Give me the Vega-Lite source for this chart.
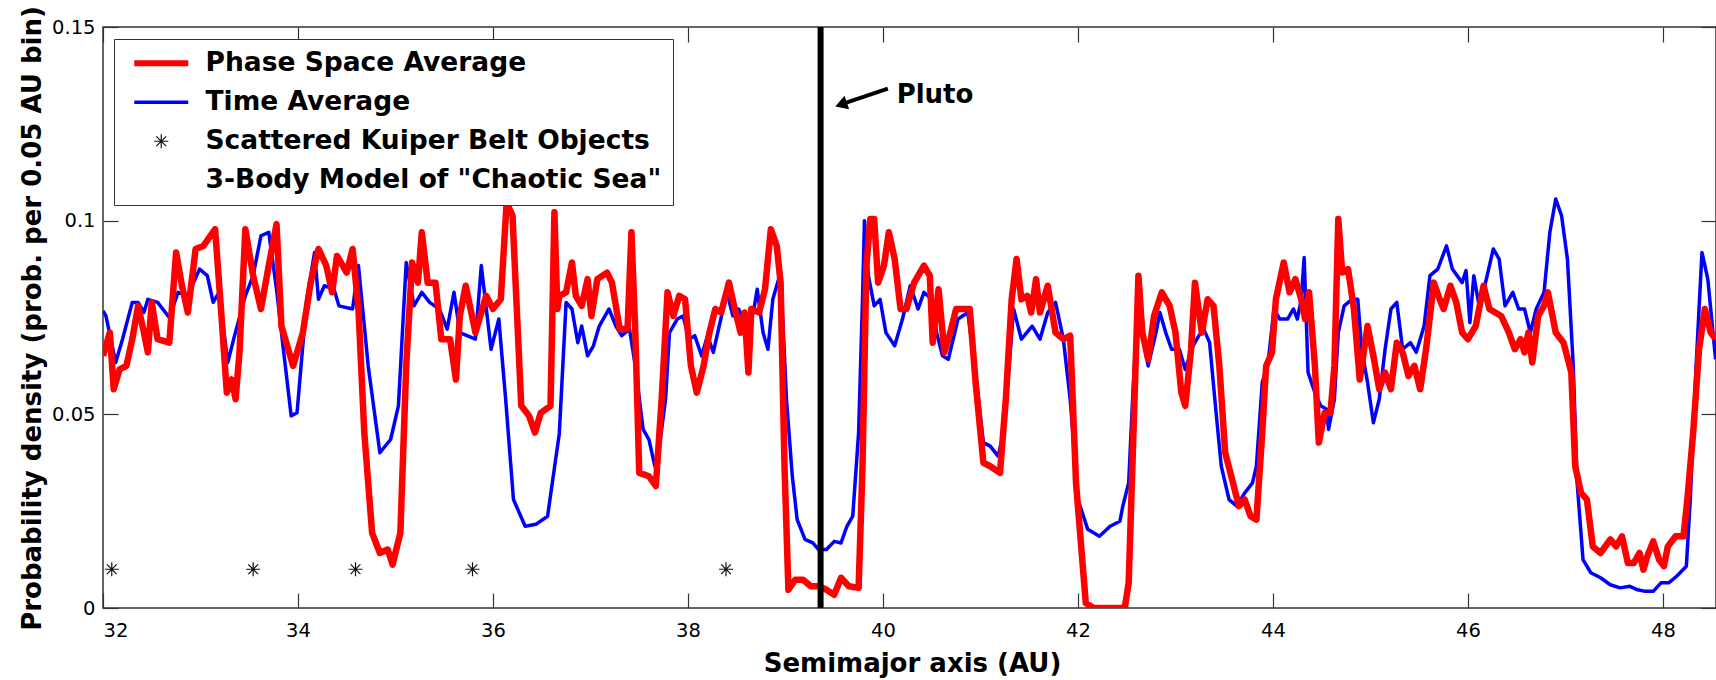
{
  "$schema": "https://vega.github.io/schema/vega-lite/v6.json",
  "width": 1613,
  "height": 581,
  "autosize": {"type": "none"},
  "padding": {"left": 103, "top": 27, "right": 0, "bottom": 72},
  "background": "white",
  "config": {
    "view": {"stroke": "#333333", "strokeWidth": 1.5},
    "font": "DejaVu Sans"
  },
  "datasets": {
    "curves": [
      {"a":32.0,"p":0.0767,"s":"Time Average"},{"a":32.03,"p":0.0754,"s":"Time Average"},{"a":32.13,"p":0.0634,"s":"Time Average"},{"a":32.2,"p":0.0694,"s":"Time Average"},{"a":32.3,"p":0.0789,"s":"Time Average"},{"a":32.36,"p":0.0789,"s":"Time Average"},{"a":32.42,"p":0.0763,"s":"Time Average"},{"a":32.46,"p":0.0797,"s":"Time Average"},{"a":32.56,"p":0.0789,"s":"Time Average"},{"a":32.68,"p":0.075,"s":"Time Average"},{"a":32.77,"p":0.0815,"s":"Time Average"},{"a":32.87,"p":0.0806,"s":"Time Average"},{"a":32.99,"p":0.0875,"s":"Time Average"},{"a":33.07,"p":0.0858,"s":"Time Average"},{"a":33.13,"p":0.0789,"s":"Time Average"},{"a":33.19,"p":0.0815,"s":"Time Average"},{"a":33.28,"p":0.0634,"s":"Time Average"},{"a":33.34,"p":0.0694,"s":"Time Average"},{"a":33.46,"p":0.0806,"s":"Time Average"},{"a":33.54,"p":0.0858,"s":"Time Average"},{"a":33.62,"p":0.0961,"s":"Time Average"},{"a":33.7,"p":0.097,"s":"Time Average"},{"a":33.78,"p":0.0823,"s":"Time Average"},{"a":33.85,"p":0.0668,"s":"Time Average"},{"a":33.93,"p":0.0496,"s":"Time Average"},{"a":33.99,"p":0.0504,"s":"Time Average"},{"a":34.09,"p":0.0797,"s":"Time Average"},{"a":34.17,"p":0.0918,"s":"Time Average"},{"a":34.21,"p":0.0797,"s":"Time Average"},{"a":34.27,"p":0.0832,"s":"Time Average"},{"a":34.37,"p":0.0823,"s":"Time Average"},{"a":34.42,"p":0.078,"s":"Time Average"},{"a":34.56,"p":0.0772,"s":"Time Average"},{"a":34.62,"p":0.0884,"s":"Time Average"},{"a":34.72,"p":0.0625,"s":"Time Average"},{"a":34.84,"p":0.0401,"s":"Time Average"},{"a":34.95,"p":0.0435,"s":"Time Average"},{"a":35.03,"p":0.0522,"s":"Time Average"},{"a":35.11,"p":0.0892,"s":"Time Average"},{"a":35.19,"p":0.078,"s":"Time Average"},{"a":35.27,"p":0.0815,"s":"Time Average"},{"a":35.35,"p":0.0789,"s":"Time Average"},{"a":35.45,"p":0.0772,"s":"Time Average"},{"a":35.53,"p":0.072,"s":"Time Average"},{"a":35.6,"p":0.0815,"s":"Time Average"},{"a":35.66,"p":0.0711,"s":"Time Average"},{"a":35.82,"p":0.0694,"s":"Time Average"},{"a":35.88,"p":0.0884,"s":"Time Average"},{"a":35.98,"p":0.0668,"s":"Time Average"},{"a":36.06,"p":0.0746,"s":"Time Average"},{"a":36.13,"p":0.0539,"s":"Time Average"},{"a":36.21,"p":0.028,"s":"Time Average"},{"a":36.33,"p":0.0211,"s":"Time Average"},{"a":36.44,"p":0.0216,"s":"Time Average"},{"a":36.56,"p":0.0237,"s":"Time Average"},{"a":36.68,"p":0.045,"s":"Time Average"},{"a":36.75,"p":0.0789,"s":"Time Average"},{"a":36.81,"p":0.0772,"s":"Time Average"},{"a":36.87,"p":0.0685,"s":"Time Average"},{"a":36.91,"p":0.0728,"s":"Time Average"},{"a":36.97,"p":0.0651,"s":"Time Average"},{"a":37.03,"p":0.0677,"s":"Time Average"},{"a":37.09,"p":0.0728,"s":"Time Average"},{"a":37.19,"p":0.0772,"s":"Time Average"},{"a":37.26,"p":0.0728,"s":"Time Average"},{"a":37.32,"p":0.0703,"s":"Time Average"},{"a":37.4,"p":0.072,"s":"Time Average"},{"a":37.46,"p":0.0625,"s":"Time Average"},{"a":37.54,"p":0.0461,"s":"Time Average"},{"a":37.6,"p":0.0435,"s":"Time Average"},{"a":37.66,"p":0.0366,"s":"Time Average"},{"a":37.69,"p":0.0384,"s":"Time Average"},{"a":37.77,"p":0.0539,"s":"Time Average"},{"a":37.81,"p":0.0711,"s":"Time Average"},{"a":37.89,"p":0.0746,"s":"Time Average"},{"a":37.95,"p":0.0754,"s":"Time Average"},{"a":38.01,"p":0.0694,"s":"Time Average"},{"a":38.07,"p":0.0703,"s":"Time Average"},{"a":38.14,"p":0.0651,"s":"Time Average"},{"a":38.2,"p":0.0703,"s":"Time Average"},{"a":38.26,"p":0.066,"s":"Time Average"},{"a":38.32,"p":0.0728,"s":"Time Average"},{"a":38.4,"p":0.0815,"s":"Time Average"},{"a":38.46,"p":0.0754,"s":"Time Average"},{"a":38.52,"p":0.0772,"s":"Time Average"},{"a":38.6,"p":0.0728,"s":"Time Average"},{"a":38.67,"p":0.0763,"s":"Time Average"},{"a":38.71,"p":0.0823,"s":"Time Average"},{"a":38.77,"p":0.0711,"s":"Time Average"},{"a":38.82,"p":0.0668,"s":"Time Average"},{"a":38.87,"p":0.0797,"s":"Time Average"},{"a":38.95,"p":0.0866,"s":"Time Average"},{"a":39.01,"p":0.0539,"s":"Time Average"},{"a":39.07,"p":0.034,"s":"Time Average"},{"a":39.12,"p":0.0228,"s":"Time Average"},{"a":39.2,"p":0.0177,"s":"Time Average"},{"a":39.28,"p":0.0168,"s":"Time Average"},{"a":39.34,"p":0.0151,"s":"Time Average"},{"a":39.42,"p":0.0151,"s":"Time Average"},{"a":39.5,"p":0.0172,"s":"Time Average"},{"a":39.57,"p":0.0168,"s":"Time Average"},{"a":39.63,"p":0.0211,"s":"Time Average"},{"a":39.69,"p":0.0237,"s":"Time Average"},{"a":39.75,"p":0.0453,"s":"Time Average"},{"a":39.79,"p":0.0797,"s":"Time Average"},{"a":39.81,"p":0.1,"s":"Time Average"},{"a":39.85,"p":0.0858,"s":"Time Average"},{"a":39.91,"p":0.078,"s":"Time Average"},{"a":39.97,"p":0.0797,"s":"Time Average"},{"a":40.03,"p":0.0711,"s":"Time Average"},{"a":40.12,"p":0.0677,"s":"Time Average"},{"a":40.2,"p":0.0746,"s":"Time Average"},{"a":40.28,"p":0.0832,"s":"Time Average"},{"a":40.36,"p":0.0772,"s":"Time Average"},{"a":40.42,"p":0.0815,"s":"Time Average"},{"a":40.5,"p":0.0797,"s":"Time Average"},{"a":40.55,"p":0.0711,"s":"Time Average"},{"a":40.61,"p":0.0651,"s":"Time Average"},{"a":40.67,"p":0.0642,"s":"Time Average"},{"a":40.77,"p":0.0746,"s":"Time Average"},{"a":40.87,"p":0.0763,"s":"Time Average"},{"a":40.95,"p":0.0608,"s":"Time Average"},{"a":41.03,"p":0.0427,"s":"Time Average"},{"a":41.1,"p":0.0418,"s":"Time Average"},{"a":41.18,"p":0.0392,"s":"Time Average"},{"a":41.24,"p":0.0453,"s":"Time Average"},{"a":41.34,"p":0.0772,"s":"Time Average"},{"a":41.42,"p":0.0694,"s":"Time Average"},{"a":41.53,"p":0.0728,"s":"Time Average"},{"a":41.61,"p":0.0694,"s":"Time Average"},{"a":41.69,"p":0.0763,"s":"Time Average"},{"a":41.77,"p":0.0789,"s":"Time Average"},{"a":41.85,"p":0.0694,"s":"Time Average"},{"a":41.92,"p":0.0539,"s":"Time Average"},{"a":42.0,"p":0.028,"s":"Time Average"},{"a":42.1,"p":0.0203,"s":"Time Average"},{"a":42.22,"p":0.0185,"s":"Time Average"},{"a":42.33,"p":0.0211,"s":"Time Average"},{"a":42.43,"p":0.0224,"s":"Time Average"},{"a":42.46,"p":0.0263,"s":"Time Average"},{"a":42.52,"p":0.0323,"s":"Time Average"},{"a":42.56,"p":0.0539,"s":"Time Average"},{"a":42.6,"p":0.0728,"s":"Time Average"},{"a":42.64,"p":0.0797,"s":"Time Average"},{"a":42.68,"p":0.0677,"s":"Time Average"},{"a":42.72,"p":0.0625,"s":"Time Average"},{"a":42.8,"p":0.0711,"s":"Time Average"},{"a":42.84,"p":0.0763,"s":"Time Average"},{"a":42.9,"p":0.0711,"s":"Time Average"},{"a":42.96,"p":0.0668,"s":"Time Average"},{"a":43.04,"p":0.0668,"s":"Time Average"},{"a":43.1,"p":0.0616,"s":"Time Average"},{"a":43.18,"p":0.0677,"s":"Time Average"},{"a":43.24,"p":0.0703,"s":"Time Average"},{"a":43.29,"p":0.072,"s":"Time Average"},{"a":43.35,"p":0.0685,"s":"Time Average"},{"a":43.41,"p":0.0522,"s":"Time Average"},{"a":43.47,"p":0.0366,"s":"Time Average"},{"a":43.55,"p":0.028,"s":"Time Average"},{"a":43.63,"p":0.0263,"s":"Time Average"},{"a":43.71,"p":0.0297,"s":"Time Average"},{"a":43.79,"p":0.0323,"s":"Time Average"},{"a":43.83,"p":0.0366,"s":"Time Average"},{"a":43.89,"p":0.0582,"s":"Time Average"},{"a":43.95,"p":0.0634,"s":"Time Average"},{"a":44.01,"p":0.0772,"s":"Time Average"},{"a":44.07,"p":0.0746,"s":"Time Average"},{"a":44.15,"p":0.0746,"s":"Time Average"},{"a":44.21,"p":0.0772,"s":"Time Average"},{"a":44.25,"p":0.0746,"s":"Time Average"},{"a":44.29,"p":0.0797,"s":"Time Average"},{"a":44.32,"p":0.0905,"s":"Time Average"},{"a":44.36,"p":0.0608,"s":"Time Average"},{"a":44.43,"p":0.0556,"s":"Time Average"},{"a":44.49,"p":0.0522,"s":"Time Average"},{"a":44.55,"p":0.0513,"s":"Time Average"},{"a":44.57,"p":0.0461,"s":"Time Average"},{"a":44.63,"p":0.0539,"s":"Time Average"},{"a":44.67,"p":0.0711,"s":"Time Average"},{"a":44.73,"p":0.078,"s":"Time Average"},{"a":44.81,"p":0.0797,"s":"Time Average"},{"a":44.87,"p":0.0797,"s":"Time Average"},{"a":44.91,"p":0.0668,"s":"Time Average"},{"a":44.97,"p":0.0582,"s":"Time Average"},{"a":45.03,"p":0.0478,"s":"Time Average"},{"a":45.09,"p":0.0539,"s":"Time Average"},{"a":45.15,"p":0.0668,"s":"Time Average"},{"a":45.21,"p":0.0772,"s":"Time Average"},{"a":45.27,"p":0.0789,"s":"Time Average"},{"a":45.33,"p":0.0668,"s":"Time Average"},{"a":45.41,"p":0.0685,"s":"Time Average"},{"a":45.47,"p":0.066,"s":"Time Average"},{"a":45.55,"p":0.0728,"s":"Time Average"},{"a":45.61,"p":0.0858,"s":"Time Average"},{"a":45.69,"p":0.0875,"s":"Time Average"},{"a":45.78,"p":0.0935,"s":"Time Average"},{"a":45.84,"p":0.0875,"s":"Time Average"},{"a":45.94,"p":0.084,"s":"Time Average"},{"a":45.98,"p":0.0871,"s":"Time Average"},{"a":46.02,"p":0.0737,"s":"Time Average"},{"a":46.06,"p":0.0858,"s":"Time Average"},{"a":46.12,"p":0.0772,"s":"Time Average"},{"a":46.18,"p":0.084,"s":"Time Average"},{"a":46.26,"p":0.0927,"s":"Time Average"},{"a":46.32,"p":0.0901,"s":"Time Average"},{"a":46.38,"p":0.078,"s":"Time Average"},{"a":46.46,"p":0.0815,"s":"Time Average"},{"a":46.52,"p":0.0772,"s":"Time Average"},{"a":46.58,"p":0.0772,"s":"Time Average"},{"a":46.64,"p":0.0711,"s":"Time Average"},{"a":46.7,"p":0.0772,"s":"Time Average"},{"a":46.78,"p":0.0815,"s":"Time Average"},{"a":46.84,"p":0.097,"s":"Time Average"},{"a":46.9,"p":0.1056,"s":"Time Average"},{"a":46.96,"p":0.1013,"s":"Time Average"},{"a":47.02,"p":0.0901,"s":"Time Average"},{"a":47.08,"p":0.0625,"s":"Time Average"},{"a":47.12,"p":0.0323,"s":"Time Average"},{"a":47.18,"p":0.0125,"s":"Time Average"},{"a":47.26,"p":0.0091,"s":"Time Average"},{"a":47.36,"p":0.0078,"s":"Time Average"},{"a":47.46,"p":0.006,"s":"Time Average"},{"a":47.56,"p":0.0052,"s":"Time Average"},{"a":47.66,"p":0.0056,"s":"Time Average"},{"a":47.74,"p":0.0047,"s":"Time Average"},{"a":47.82,"p":0.0043,"s":"Time Average"},{"a":47.9,"p":0.0043,"s":"Time Average"},{"a":47.98,"p":0.0065,"s":"Time Average"},{"a":48.06,"p":0.0065,"s":"Time Average"},{"a":48.14,"p":0.0082,"s":"Time Average"},{"a":48.24,"p":0.0108,"s":"Time Average"},{"a":48.28,"p":0.028,"s":"Time Average"},{"a":48.34,"p":0.0625,"s":"Time Average"},{"a":48.4,"p":0.0918,"s":"Time Average"},{"a":48.46,"p":0.0849,"s":"Time Average"},{"a":48.5,"p":0.0746,"s":"Time Average"},{"a":48.54,"p":0.0642,"s":"Time Average"},
      {"a":32.0,"p":0.0651,"s":"Phase Space Average"},{"a":32.07,"p":0.0711,"s":"Phase Space Average"},{"a":32.11,"p":0.0565,"s":"Phase Space Average"},{"a":32.17,"p":0.0616,"s":"Phase Space Average"},{"a":32.24,"p":0.0625,"s":"Phase Space Average"},{"a":32.3,"p":0.0694,"s":"Phase Space Average"},{"a":32.36,"p":0.078,"s":"Phase Space Average"},{"a":32.42,"p":0.0711,"s":"Phase Space Average"},{"a":32.46,"p":0.066,"s":"Phase Space Average"},{"a":32.5,"p":0.0789,"s":"Phase Space Average"},{"a":32.56,"p":0.0694,"s":"Phase Space Average"},{"a":32.68,"p":0.0685,"s":"Phase Space Average"},{"a":32.75,"p":0.0918,"s":"Phase Space Average"},{"a":32.81,"p":0.0832,"s":"Phase Space Average"},{"a":32.87,"p":0.0763,"s":"Phase Space Average"},{"a":32.95,"p":0.0927,"s":"Phase Space Average"},{"a":33.03,"p":0.0935,"s":"Phase Space Average"},{"a":33.15,"p":0.0978,"s":"Phase Space Average"},{"a":33.21,"p":0.0772,"s":"Phase Space Average"},{"a":33.27,"p":0.0556,"s":"Phase Space Average"},{"a":33.32,"p":0.059,"s":"Phase Space Average"},{"a":33.36,"p":0.0539,"s":"Phase Space Average"},{"a":33.4,"p":0.066,"s":"Phase Space Average"},{"a":33.46,"p":0.0978,"s":"Phase Space Average"},{"a":33.54,"p":0.0858,"s":"Phase Space Average"},{"a":33.62,"p":0.0772,"s":"Phase Space Average"},{"a":33.7,"p":0.0884,"s":"Phase Space Average"},{"a":33.78,"p":0.0991,"s":"Phase Space Average"},{"a":33.83,"p":0.0728,"s":"Phase Space Average"},{"a":33.95,"p":0.0625,"s":"Phase Space Average"},{"a":34.05,"p":0.0711,"s":"Phase Space Average"},{"a":34.13,"p":0.084,"s":"Phase Space Average"},{"a":34.21,"p":0.0927,"s":"Phase Space Average"},{"a":34.29,"p":0.0884,"s":"Phase Space Average"},{"a":34.35,"p":0.0815,"s":"Phase Space Average"},{"a":34.4,"p":0.0909,"s":"Phase Space Average"},{"a":34.5,"p":0.0866,"s":"Phase Space Average"},{"a":34.56,"p":0.0927,"s":"Phase Space Average"},{"a":34.62,"p":0.0772,"s":"Phase Space Average"},{"a":34.68,"p":0.0453,"s":"Phase Space Average"},{"a":34.76,"p":0.0194,"s":"Phase Space Average"},{"a":34.84,"p":0.0142,"s":"Phase Space Average"},{"a":34.92,"p":0.0151,"s":"Phase Space Average"},{"a":34.97,"p":0.0112,"s":"Phase Space Average"},{"a":35.05,"p":0.0194,"s":"Phase Space Average"},{"a":35.11,"p":0.0625,"s":"Phase Space Average"},{"a":35.17,"p":0.0892,"s":"Phase Space Average"},{"a":35.23,"p":0.084,"s":"Phase Space Average"},{"a":35.27,"p":0.097,"s":"Phase Space Average"},{"a":35.33,"p":0.084,"s":"Phase Space Average"},{"a":35.41,"p":0.084,"s":"Phase Space Average"},{"a":35.47,"p":0.0694,"s":"Phase Space Average"},{"a":35.56,"p":0.0694,"s":"Phase Space Average"},{"a":35.62,"p":0.059,"s":"Phase Space Average"},{"a":35.66,"p":0.0754,"s":"Phase Space Average"},{"a":35.72,"p":0.0832,"s":"Phase Space Average"},{"a":35.82,"p":0.0711,"s":"Phase Space Average"},{"a":35.93,"p":0.0806,"s":"Phase Space Average"},{"a":36.0,"p":0.0772,"s":"Phase Space Average"},{"a":36.08,"p":0.0797,"s":"Phase Space Average"},{"a":36.14,"p":0.1047,"s":"Phase Space Average"},{"a":36.2,"p":0.1013,"s":"Phase Space Average"},{"a":36.29,"p":0.0522,"s":"Phase Space Average"},{"a":36.37,"p":0.0496,"s":"Phase Space Average"},{"a":36.43,"p":0.0453,"s":"Phase Space Average"},{"a":36.49,"p":0.0504,"s":"Phase Space Average"},{"a":36.59,"p":0.0522,"s":"Phase Space Average"},{"a":36.63,"p":0.1022,"s":"Phase Space Average"},{"a":36.66,"p":0.0772,"s":"Phase Space Average"},{"a":36.68,"p":0.0806,"s":"Phase Space Average"},{"a":36.75,"p":0.0815,"s":"Phase Space Average"},{"a":36.81,"p":0.0892,"s":"Phase Space Average"},{"a":36.85,"p":0.0806,"s":"Phase Space Average"},{"a":36.91,"p":0.078,"s":"Phase Space Average"},{"a":36.97,"p":0.0849,"s":"Phase Space Average"},{"a":37.01,"p":0.0754,"s":"Phase Space Average"},{"a":37.07,"p":0.0849,"s":"Phase Space Average"},{"a":37.17,"p":0.0866,"s":"Phase Space Average"},{"a":37.22,"p":0.084,"s":"Phase Space Average"},{"a":37.3,"p":0.072,"s":"Phase Space Average"},{"a":37.38,"p":0.072,"s":"Phase Space Average"},{"a":37.42,"p":0.097,"s":"Phase Space Average"},{"a":37.46,"p":0.0711,"s":"Phase Space Average"},{"a":37.5,"p":0.0349,"s":"Phase Space Average"},{"a":37.6,"p":0.034,"s":"Phase Space Average"},{"a":37.67,"p":0.0315,"s":"Phase Space Average"},{"a":37.73,"p":0.0539,"s":"Phase Space Average"},{"a":37.79,"p":0.0815,"s":"Phase Space Average"},{"a":37.85,"p":0.0754,"s":"Phase Space Average"},{"a":37.91,"p":0.0806,"s":"Phase Space Average"},{"a":37.97,"p":0.0797,"s":"Phase Space Average"},{"a":38.03,"p":0.0625,"s":"Phase Space Average"},{"a":38.09,"p":0.0556,"s":"Phase Space Average"},{"a":38.16,"p":0.0625,"s":"Phase Space Average"},{"a":38.22,"p":0.0711,"s":"Phase Space Average"},{"a":38.28,"p":0.0772,"s":"Phase Space Average"},{"a":38.34,"p":0.0763,"s":"Phase Space Average"},{"a":38.42,"p":0.084,"s":"Phase Space Average"},{"a":38.48,"p":0.0772,"s":"Phase Space Average"},{"a":38.54,"p":0.0711,"s":"Phase Space Average"},{"a":38.58,"p":0.0763,"s":"Phase Space Average"},{"a":38.62,"p":0.0608,"s":"Phase Space Average"},{"a":38.65,"p":0.0772,"s":"Phase Space Average"},{"a":38.73,"p":0.0763,"s":"Phase Space Average"},{"a":38.79,"p":0.0823,"s":"Phase Space Average"},{"a":38.85,"p":0.0978,"s":"Phase Space Average"},{"a":38.91,"p":0.0935,"s":"Phase Space Average"},{"a":38.95,"p":0.084,"s":"Phase Space Average"},{"a":38.99,"p":0.0366,"s":"Phase Space Average"},{"a":39.03,"p":0.0047,"s":"Phase Space Average"},{"a":39.1,"p":0.0073,"s":"Phase Space Average"},{"a":39.18,"p":0.0073,"s":"Phase Space Average"},{"a":39.26,"p":0.0056,"s":"Phase Space Average"},{"a":39.34,"p":0.0056,"s":"Phase Space Average"},{"a":39.42,"p":0.0047,"s":"Phase Space Average"},{"a":39.5,"p":0.0034,"s":"Phase Space Average"},{"a":39.57,"p":0.0078,"s":"Phase Space Average"},{"a":39.65,"p":0.0056,"s":"Phase Space Average"},{"a":39.75,"p":0.0052,"s":"Phase Space Average"},{"a":39.79,"p":0.0366,"s":"Phase Space Average"},{"a":39.83,"p":0.0884,"s":"Phase Space Average"},{"a":39.87,"p":0.1004,"s":"Phase Space Average"},{"a":39.91,"p":0.1004,"s":"Phase Space Average"},{"a":39.95,"p":0.084,"s":"Phase Space Average"},{"a":40.01,"p":0.0884,"s":"Phase Space Average"},{"a":40.06,"p":0.097,"s":"Phase Space Average"},{"a":40.12,"p":0.0901,"s":"Phase Space Average"},{"a":40.18,"p":0.0772,"s":"Phase Space Average"},{"a":40.24,"p":0.0772,"s":"Phase Space Average"},{"a":40.32,"p":0.084,"s":"Phase Space Average"},{"a":40.42,"p":0.0884,"s":"Phase Space Average"},{"a":40.48,"p":0.0858,"s":"Phase Space Average"},{"a":40.51,"p":0.0685,"s":"Phase Space Average"},{"a":40.57,"p":0.0823,"s":"Phase Space Average"},{"a":40.63,"p":0.066,"s":"Phase Space Average"},{"a":40.69,"p":0.0711,"s":"Phase Space Average"},{"a":40.75,"p":0.0772,"s":"Phase Space Average"},{"a":40.81,"p":0.0772,"s":"Phase Space Average"},{"a":40.89,"p":0.0772,"s":"Phase Space Average"},{"a":40.95,"p":0.0582,"s":"Phase Space Average"},{"a":41.03,"p":0.0375,"s":"Phase Space Average"},{"a":41.1,"p":0.0366,"s":"Phase Space Average"},{"a":41.2,"p":0.0349,"s":"Phase Space Average"},{"a":41.26,"p":0.0539,"s":"Phase Space Average"},{"a":41.32,"p":0.0797,"s":"Phase Space Average"},{"a":41.37,"p":0.0901,"s":"Phase Space Average"},{"a":41.42,"p":0.0797,"s":"Phase Space Average"},{"a":41.48,"p":0.0806,"s":"Phase Space Average"},{"a":41.52,"p":0.0763,"s":"Phase Space Average"},{"a":41.57,"p":0.0849,"s":"Phase Space Average"},{"a":41.61,"p":0.0763,"s":"Phase Space Average"},{"a":41.69,"p":0.0832,"s":"Phase Space Average"},{"a":41.77,"p":0.0711,"s":"Phase Space Average"},{"a":41.85,"p":0.0694,"s":"Phase Space Average"},{"a":41.92,"p":0.0703,"s":"Phase Space Average"},{"a":41.98,"p":0.0323,"s":"Phase Space Average"},{"a":42.08,"p":0.0013,"s":"Phase Space Average"},{"a":42.16,"p":0.0,"s":"Phase Space Average"},{"a":42.3,"p":0.0,"s":"Phase Space Average"},{"a":42.48,"p":0.0,"s":"Phase Space Average"},{"a":42.52,"p":0.0065,"s":"Phase Space Average"},{"a":42.58,"p":0.0539,"s":"Phase Space Average"},{"a":42.62,"p":0.0858,"s":"Phase Space Average"},{"a":42.66,"p":0.0711,"s":"Phase Space Average"},{"a":42.72,"p":0.0642,"s":"Phase Space Average"},{"a":42.78,"p":0.0754,"s":"Phase Space Average"},{"a":42.86,"p":0.0815,"s":"Phase Space Average"},{"a":42.94,"p":0.078,"s":"Phase Space Average"},{"a":43.0,"p":0.0711,"s":"Phase Space Average"},{"a":43.06,"p":0.0556,"s":"Phase Space Average"},{"a":43.1,"p":0.0522,"s":"Phase Space Average"},{"a":43.16,"p":0.0668,"s":"Phase Space Average"},{"a":43.2,"p":0.084,"s":"Phase Space Average"},{"a":43.27,"p":0.0711,"s":"Phase Space Average"},{"a":43.33,"p":0.0797,"s":"Phase Space Average"},{"a":43.39,"p":0.078,"s":"Phase Space Average"},{"a":43.45,"p":0.0625,"s":"Phase Space Average"},{"a":43.51,"p":0.0401,"s":"Phase Space Average"},{"a":43.59,"p":0.0323,"s":"Phase Space Average"},{"a":43.65,"p":0.0263,"s":"Phase Space Average"},{"a":43.71,"p":0.028,"s":"Phase Space Average"},{"a":43.77,"p":0.0237,"s":"Phase Space Average"},{"a":43.83,"p":0.0228,"s":"Phase Space Average"},{"a":43.89,"p":0.0453,"s":"Phase Space Average"},{"a":43.93,"p":0.0625,"s":"Phase Space Average"},{"a":43.99,"p":0.066,"s":"Phase Space Average"},{"a":44.03,"p":0.0797,"s":"Phase Space Average"},{"a":44.11,"p":0.0892,"s":"Phase Space Average"},{"a":44.17,"p":0.0815,"s":"Phase Space Average"},{"a":44.23,"p":0.0849,"s":"Phase Space Average"},{"a":44.29,"p":0.0797,"s":"Phase Space Average"},{"a":44.33,"p":0.0746,"s":"Phase Space Average"},{"a":44.37,"p":0.0815,"s":"Phase Space Average"},{"a":44.43,"p":0.0625,"s":"Phase Space Average"},{"a":44.47,"p":0.0427,"s":"Phase Space Average"},{"a":44.53,"p":0.0504,"s":"Phase Space Average"},{"a":44.59,"p":0.0504,"s":"Phase Space Average"},{"a":44.63,"p":0.0625,"s":"Phase Space Average"},{"a":44.67,"p":0.1004,"s":"Phase Space Average"},{"a":44.71,"p":0.0866,"s":"Phase Space Average"},{"a":44.77,"p":0.0875,"s":"Phase Space Average"},{"a":44.83,"p":0.0772,"s":"Phase Space Average"},{"a":44.89,"p":0.059,"s":"Phase Space Average"},{"a":44.97,"p":0.0728,"s":"Phase Space Average"},{"a":45.03,"p":0.0651,"s":"Phase Space Average"},{"a":45.09,"p":0.0565,"s":"Phase Space Average"},{"a":45.15,"p":0.0608,"s":"Phase Space Average"},{"a":45.21,"p":0.0565,"s":"Phase Space Average"},{"a":45.27,"p":0.0685,"s":"Phase Space Average"},{"a":45.33,"p":0.066,"s":"Phase Space Average"},{"a":45.39,"p":0.0599,"s":"Phase Space Average"},{"a":45.45,"p":0.0625,"s":"Phase Space Average"},{"a":45.51,"p":0.0565,"s":"Phase Space Average"},{"a":45.57,"p":0.0668,"s":"Phase Space Average"},{"a":45.65,"p":0.084,"s":"Phase Space Average"},{"a":45.71,"p":0.0797,"s":"Phase Space Average"},{"a":45.75,"p":0.0772,"s":"Phase Space Average"},{"a":45.82,"p":0.0832,"s":"Phase Space Average"},{"a":45.88,"p":0.0789,"s":"Phase Space Average"},{"a":45.94,"p":0.0711,"s":"Phase Space Average"},{"a":46.0,"p":0.0694,"s":"Phase Space Average"},{"a":46.08,"p":0.0728,"s":"Phase Space Average"},{"a":46.16,"p":0.0832,"s":"Phase Space Average"},{"a":46.22,"p":0.0772,"s":"Phase Space Average"},{"a":46.28,"p":0.0763,"s":"Phase Space Average"},{"a":46.34,"p":0.0754,"s":"Phase Space Average"},{"a":46.42,"p":0.0711,"s":"Phase Space Average"},{"a":46.48,"p":0.0668,"s":"Phase Space Average"},{"a":46.54,"p":0.0694,"s":"Phase Space Average"},{"a":46.58,"p":0.066,"s":"Phase Space Average"},{"a":46.62,"p":0.0711,"s":"Phase Space Average"},{"a":46.66,"p":0.0634,"s":"Phase Space Average"},{"a":46.72,"p":0.0754,"s":"Phase Space Average"},{"a":46.78,"p":0.078,"s":"Phase Space Average"},{"a":46.82,"p":0.0815,"s":"Phase Space Average"},{"a":46.9,"p":0.0711,"s":"Phase Space Average"},{"a":46.98,"p":0.0685,"s":"Phase Space Average"},{"a":47.06,"p":0.0608,"s":"Phase Space Average"},{"a":47.1,"p":0.0366,"s":"Phase Space Average"},{"a":47.16,"p":0.0297,"s":"Phase Space Average"},{"a":47.22,"p":0.028,"s":"Phase Space Average"},{"a":47.28,"p":0.0159,"s":"Phase Space Average"},{"a":47.36,"p":0.0142,"s":"Phase Space Average"},{"a":47.46,"p":0.0177,"s":"Phase Space Average"},{"a":47.52,"p":0.0159,"s":"Phase Space Average"},{"a":47.58,"p":0.0185,"s":"Phase Space Average"},{"a":47.64,"p":0.0116,"s":"Phase Space Average"},{"a":47.7,"p":0.0116,"s":"Phase Space Average"},{"a":47.76,"p":0.0142,"s":"Phase Space Average"},{"a":47.8,"p":0.0099,"s":"Phase Space Average"},{"a":47.84,"p":0.0134,"s":"Phase Space Average"},{"a":47.9,"p":0.0172,"s":"Phase Space Average"},{"a":47.96,"p":0.0125,"s":"Phase Space Average"},{"a":48.01,"p":0.0108,"s":"Phase Space Average"},{"a":48.05,"p":0.0159,"s":"Phase Space Average"},{"a":48.13,"p":0.0185,"s":"Phase Space Average"},{"a":48.21,"p":0.0185,"s":"Phase Space Average"},{"a":48.25,"p":0.028,"s":"Phase Space Average"},{"a":48.31,"p":0.0453,"s":"Phase Space Average"},{"a":48.37,"p":0.0668,"s":"Phase Space Average"},{"a":48.43,"p":0.0772,"s":"Phase Space Average"},{"a":48.49,"p":0.0711,"s":"Phase Space Average"},{"a":48.54,"p":0.0694,"s":"Phase Space Average"}
    ],
    "kbo": [
      {"a":32.09,"p":0.01,"s":"Scattered Kuiper Belt Objects"},
      {"a":33.54,"p":0.01,"s":"Scattered Kuiper Belt Objects"},
      {"a":34.59,"p":0.01,"s":"Scattered Kuiper Belt Objects"},
      {"a":35.79,"p":0.01,"s":"Scattered Kuiper Belt Objects"},
      {"a":38.39,"p":0.01,"s":"Scattered Kuiper Belt Objects"}
    ],
    "pluto": [{"a":39.36}],
    "arrow": [{"a":40.05,"p":0.1341,"a2":39.57,"p2":0.13,"ta":40.14,"tp":0.1304,"label":"Pluto"}]
  },
  "resolve": {"axis": {"x": "independent", "y": "independent"}},
  "layer": [
    {
      "data": {"name": "curves"},
      "transform": [{"filter": "datum.s === 'Time Average'"}],
      "mark": {"type": "line", "strokeWidth": 3.5, "strokeJoin": "round", "clip": true},
      "encoding": {
        "x": {"field": "a", "type": "quantitative",
          "scale": {"domain": [32, 48.544], "nice": false, "zero": false},
          "axis": {"orient": "bottom", "values": [32,34,36,38,40,42,44,46,48], "domain": false,
            "tickSize": -15, "tickColor": "#333333", "tickWidth": 1.2, "grid": false,
            "labelFont": "DejaVu Sans", "labelFontSize": 19.5, "labelColor": "black", "labelPadding": 28,
            "title": "Semimajor axis (AU)", "titleFont": "DejaVu Sans", "titleFontWeight": "bold",
            "titleFontSize": 26, "titleColor": "black", "titleX": 809, "titleY": 63,
            "titleBaseline": "alphabetic", "titleAlign": "center", "titleAnchor": null}},
        "y": {"field": "p", "type": "quantitative",
          "scale": {"domain": [0, 0.15], "nice": false, "zero": false},
          "axis": {"orient": "left", "values": [0, 0.05, 0.1, 0.15], "format": ".2~f", "domain": false,
            "tickSize": -15, "tickColor": "#333333", "tickWidth": 1.2, "grid": false,
            "labelFont": "DejaVu Sans", "labelFontSize": 19.5, "labelColor": "black", "labelPadding": 23,
            "title": "Probability density (prob. per 0.05 AU bin)", "titleFont": "DejaVu Sans",
            "titleFontWeight": "bold", "titleFontSize": 26, "titleColor": "black",
            "titleAngle": -90, "titleX": -63, "titleY": 291, "titleBaseline": "alphabetic",
            "titleAlign": "center", "titleAnchor": null}},
        "color": {"field": "s", "type": "nominal",
          "scale": {"domain": ["Phase Space Average", "Time Average", "Scattered Kuiper Belt Objects", "3-Body Model of \"Chaotic Sea\""],
                    "range": ["#ff0000", "#0000ff", "#111111", "transparent"]},
          "legend": {
            "orient": "none", "legendX": 11, "legendY": 12, "title": null,
            "strokeColor": "#333333", "fillColor": "white", "padding": 11, "cornerRadius": 0,
            "rowPadding": 12, "symbolType": "stroke", "symbolSize": 2916, "symbolStrokeWidth": 5,
            "symbolOffset": 23, "labelOffset": 31, "labelLimit": 700,
            "labelFont": "DejaVu Sans", "labelFontWeight": "bold", "labelFontSize": 26.5, "labelColor": "black",
            "encode": {"symbols": {"update": {
              "shape": {"signal": "datum.label === 'Scattered Kuiper Belt Objects' ? 'M-1,0L1,0M0,-1L0,1M-0.7,-0.7L0.7,0.7M-0.7,0.7L0.7,-0.7' : 'stroke'"},
              "size": {"signal": "datum.label === 'Scattered Kuiper Belt Objects' ? 196 : 2916"},
              "strokeWidth": {"signal": "datum.label === 'Phase Space Average' ? 6 : datum.label === 'Time Average' ? 3.5 : 1.2"}
            }}}
          }}
      }
    },
    {
      "data": {"name": "curves"},
      "transform": [{"filter": "datum.s === 'Phase Space Average'"}],
      "mark": {"type": "line", "strokeWidth": 6.5, "strokeJoin": "round", "clip": true},
      "encoding": {
        "x": {"field": "a", "type": "quantitative",
          "axis": {"orient": "top", "values": [32,34,36,38,40,42,44,46,48], "domain": false,
            "tickSize": -15, "tickColor": "#333333", "tickWidth": 1.2, "grid": false,
            "labels": false, "title": null}},
        "y": {"field": "p", "type": "quantitative",
          "axis": {"orient": "right", "values": [0, 0.05, 0.1, 0.15], "domain": false,
            "tickSize": -15, "tickColor": "#333333", "tickWidth": 1.2, "grid": false,
            "labels": false, "title": null}},
        "color": {"field": "s", "type": "nominal"}
      }
    },
    {
      "data": {"name": "kbo"},
      "mark": {"type": "point", "filled": false, "opacity": 1, "strokeWidth": 1.2, "size": 196,
               "shape": "M-1,0L1,0M0,-1L0,1M-0.7,-0.7L0.7,0.7M-0.7,0.7L0.7,-0.7"},
      "encoding": {
        "x": {"field": "a", "type": "quantitative", "axis": null},
        "y": {"field": "p", "type": "quantitative", "axis": null},
        "color": {"field": "s", "type": "nominal"}
      }
    },
    {
      "data": {"name": "pluto"},
      "mark": {"type": "rule", "color": "black", "strokeWidth": 6},
      "encoding": {
        "x": {"field": "a", "type": "quantitative", "axis": null}
      }
    },
    {
      "data": {"name": "arrow"},
      "mark": {"type": "rule", "color": "black", "strokeWidth": 4},
      "encoding": {
        "x": {"field": "a", "type": "quantitative", "axis": null},
        "y": {"field": "p", "type": "quantitative", "axis": null},
        "x2": {"field": "a2"},
        "y2": {"field": "p2"}
      }
    },
    {
      "data": {"name": "arrow"},
      "mark": {"type": "point", "shape": "triangle-up", "filled": true, "color": "black", "opacity": 1, "size": 200, "angle": 251},
      "encoding": {
        "x": {"field": "a2", "type": "quantitative", "axis": null},
        "y": {"field": "p2", "type": "quantitative", "axis": null}
      }
    },
    {
      "data": {"name": "arrow"},
      "mark": {"type": "text", "font": "DejaVu Sans", "fontWeight": "bold", "fontSize": 26, "color": "black", "align": "left", "baseline": "alphabetic"},
      "encoding": {
        "x": {"field": "ta", "type": "quantitative", "axis": null},
        "y": {"field": "tp", "type": "quantitative", "axis": null},
        "text": {"field": "label"}
      }
    }
  ]
}
